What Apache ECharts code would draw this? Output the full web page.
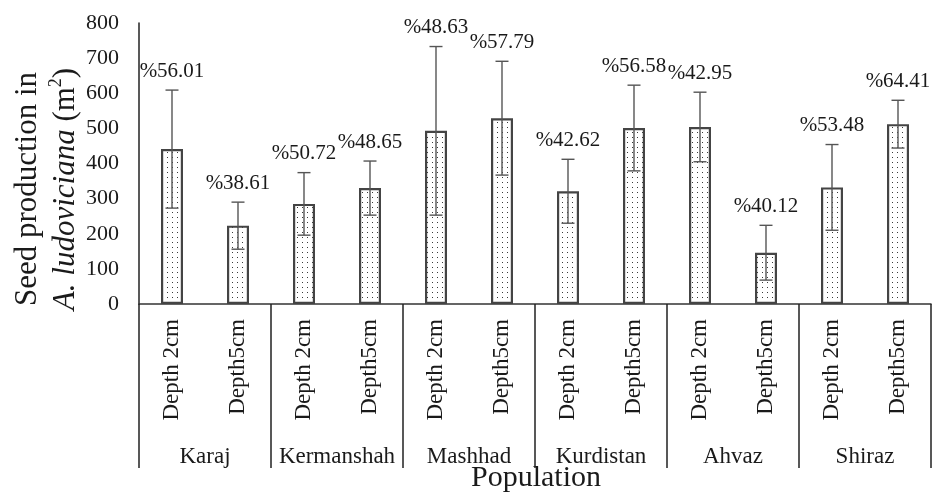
<!DOCTYPE html>
<html>
<head>
<meta charset="utf-8">
<script src="https://cdn.jsdelivr.net/npm/echarts@6/dist/echarts.min.js"></script>
<style>
html,body{margin:0;padding:0;background:#fff;}
#chart{width:932px;height:494px;}
</style>
</head>
<body>
<div id="chart"></div>
<script>
// ---- data ----
const populations = ['Karaj', 'Kermanshah', 'Mashhad', 'Kurdistan', 'Ahvaz', 'Shiraz'];
const depthLabels = ['Depth 2cm', 'Depth5cm', 'Depth 2cm', 'Depth5cm', 'Depth 2cm', 'Depth5cm',
                     'Depth 2cm', 'Depth5cm', 'Depth 2cm', 'Depth5cm', 'Depth 2cm', 'Depth5cm'];
const seedValues = [441, 223, 285, 330, 493, 529, 321, 501, 504, 146, 332, 512];
const errorValues = [168, 67, 89, 77, 240, 162, 91, 122, 99, 78, 122, 68];
const percentLabels = ['%56.01', '%38.61', '%50.72', '%48.65', '%48.63', '%57.79',
                       '%42.62', '%56.58', '%42.95', '%40.12', '%53.48', '%64.41'];
const yTicks = { min: 0, max: 800, interval: 100 };

// ---- styling ----
const FONT = "'Liberation Serif', 'Times New Roman', serif";
const TXT = '#1a1a1a';

function dotPattern() {
  const c = document.createElement('canvas');
  c.width = 5; c.height = 5;
  const ctx = c.getContext('2d');
  ctx.fillStyle = '#ffffff';
  ctx.fillRect(0, 0, 5, 5);
  ctx.fillStyle = '#3a3a3a';
  ctx.fillRect(2, 2, 1, 1);
  return c;
}

const chart = echarts.init(document.getElementById('chart'), null, { renderer: 'canvas' });

const errData = seedValues.map((v, i) => [i, v, errorValues[i]]);

const option = {
  animation: false,
  backgroundColor: '#ffffff',
  grid: { left: 139, right: 1, top: 23, bottom: 190, containLabel: false },
  xAxis: [
    {
      type: 'category',
      data: depthLabels,
      position: 'bottom',
      axisLine: { show: true, lineStyle: { color: '#333', width: 1.5 } },
      axisTick: { show: false },
      axisLabel: {
        rotate: 90, margin: 15, fontSize: 23, fontFamily: FONT, color: TXT, interval: 0
      },
      splitLine: { show: false }
    },
    {
      type: 'category',
      data: populations,
      position: 'bottom',
      offset: 0,
      axisLine: { show: false },
      axisTick: { show: true, length: 164, lineStyle: { color: '#222', width: 1.5 } },
      axisLabel: { margin: 141, fontSize: 23, fontFamily: FONT, color: TXT, interval: 0 },
      splitLine: { show: false }
    }
  ],
  yAxis: {
    type: 'value',
    min: yTicks.min, max: yTicks.max, interval: yTicks.interval,
    axisLine: { show: true, lineStyle: { color: '#222', width: 1.5 } },
    axisTick: { show: false },
    axisLabel: { margin: 20, fontSize: 22, fontFamily: FONT, color: TXT },
    splitLine: { show: false }
  },
  graphic: [
    {
      type: 'text',
      x: 47, y: 189,
      rotation: Math.PI / 2,
      style: {
        text: '{n|Seed production in}\n{i|A. ludoviciana }{n|(m}{s|2}{n|)}',
        align: 'center',
        verticalAlign: 'middle',
        fill: TXT,
        rich: {
          n: { fontSize: 31, fontFamily: FONT, fill: TXT, lineHeight: 38 },
          i: { fontSize: 31, fontFamily: FONT, fontStyle: 'italic', fill: TXT, lineHeight: 38 },
          s: { fontSize: 18, fontFamily: FONT, fill: TXT, lineHeight: 38, verticalAlign: 'top' }
        }
      }
    },
    {
      type: 'text',
      x: 536, y: 478,
      style: {
        text: 'Population',
        font: '30px ' + FONT,
        fill: TXT,
        align: 'center',
        verticalAlign: 'middle'
      }
    }
  ],
  series: [
    {
      type: 'bar',
      xAxisIndex: 0,
      data: seedValues,
      barWidth: 22,
      itemStyle: {
        color: { image: dotPattern(), repeat: 'repeat' },
        borderColor: '#444',
        borderWidth: 2.2
      },
      z: 2
    },
    {
      type: 'custom',
      xAxisIndex: 0,
      data: errData,
      z: 5,
      renderItem: function (params, api) {
        const x = api.value(0), v = api.value(1), e = api.value(2);
        const top = api.coord([x, v + e]);
        const bot = api.coord([x, v - e]);
        const hw = 6.5;
        const ls = { stroke: '#555', lineWidth: 1.4 };
        return {
          type: 'group',
          children: [
            { type: 'line', shape: { x1: top[0], y1: top[1], x2: bot[0], y2: bot[1] }, style: ls },
            { type: 'line', shape: { x1: top[0] - hw, y1: top[1], x2: top[0] + hw, y2: top[1] }, style: ls },
            { type: 'line', shape: { x1: bot[0] - hw, y1: bot[1], x2: bot[0] + hw, y2: bot[1] }, style: ls },
            {
              type: 'text',
              x: top[0], y: top[1] - 19,
              style: {
                text: percentLabels[params.dataIndex],
                font: '21px ' + FONT,
                fill: TXT,
                align: 'center',
                verticalAlign: 'middle'
              }
            }
          ]
        };
      }
    }
  ]
};

chart.setOption(option);
</script>
</body>
</html>
